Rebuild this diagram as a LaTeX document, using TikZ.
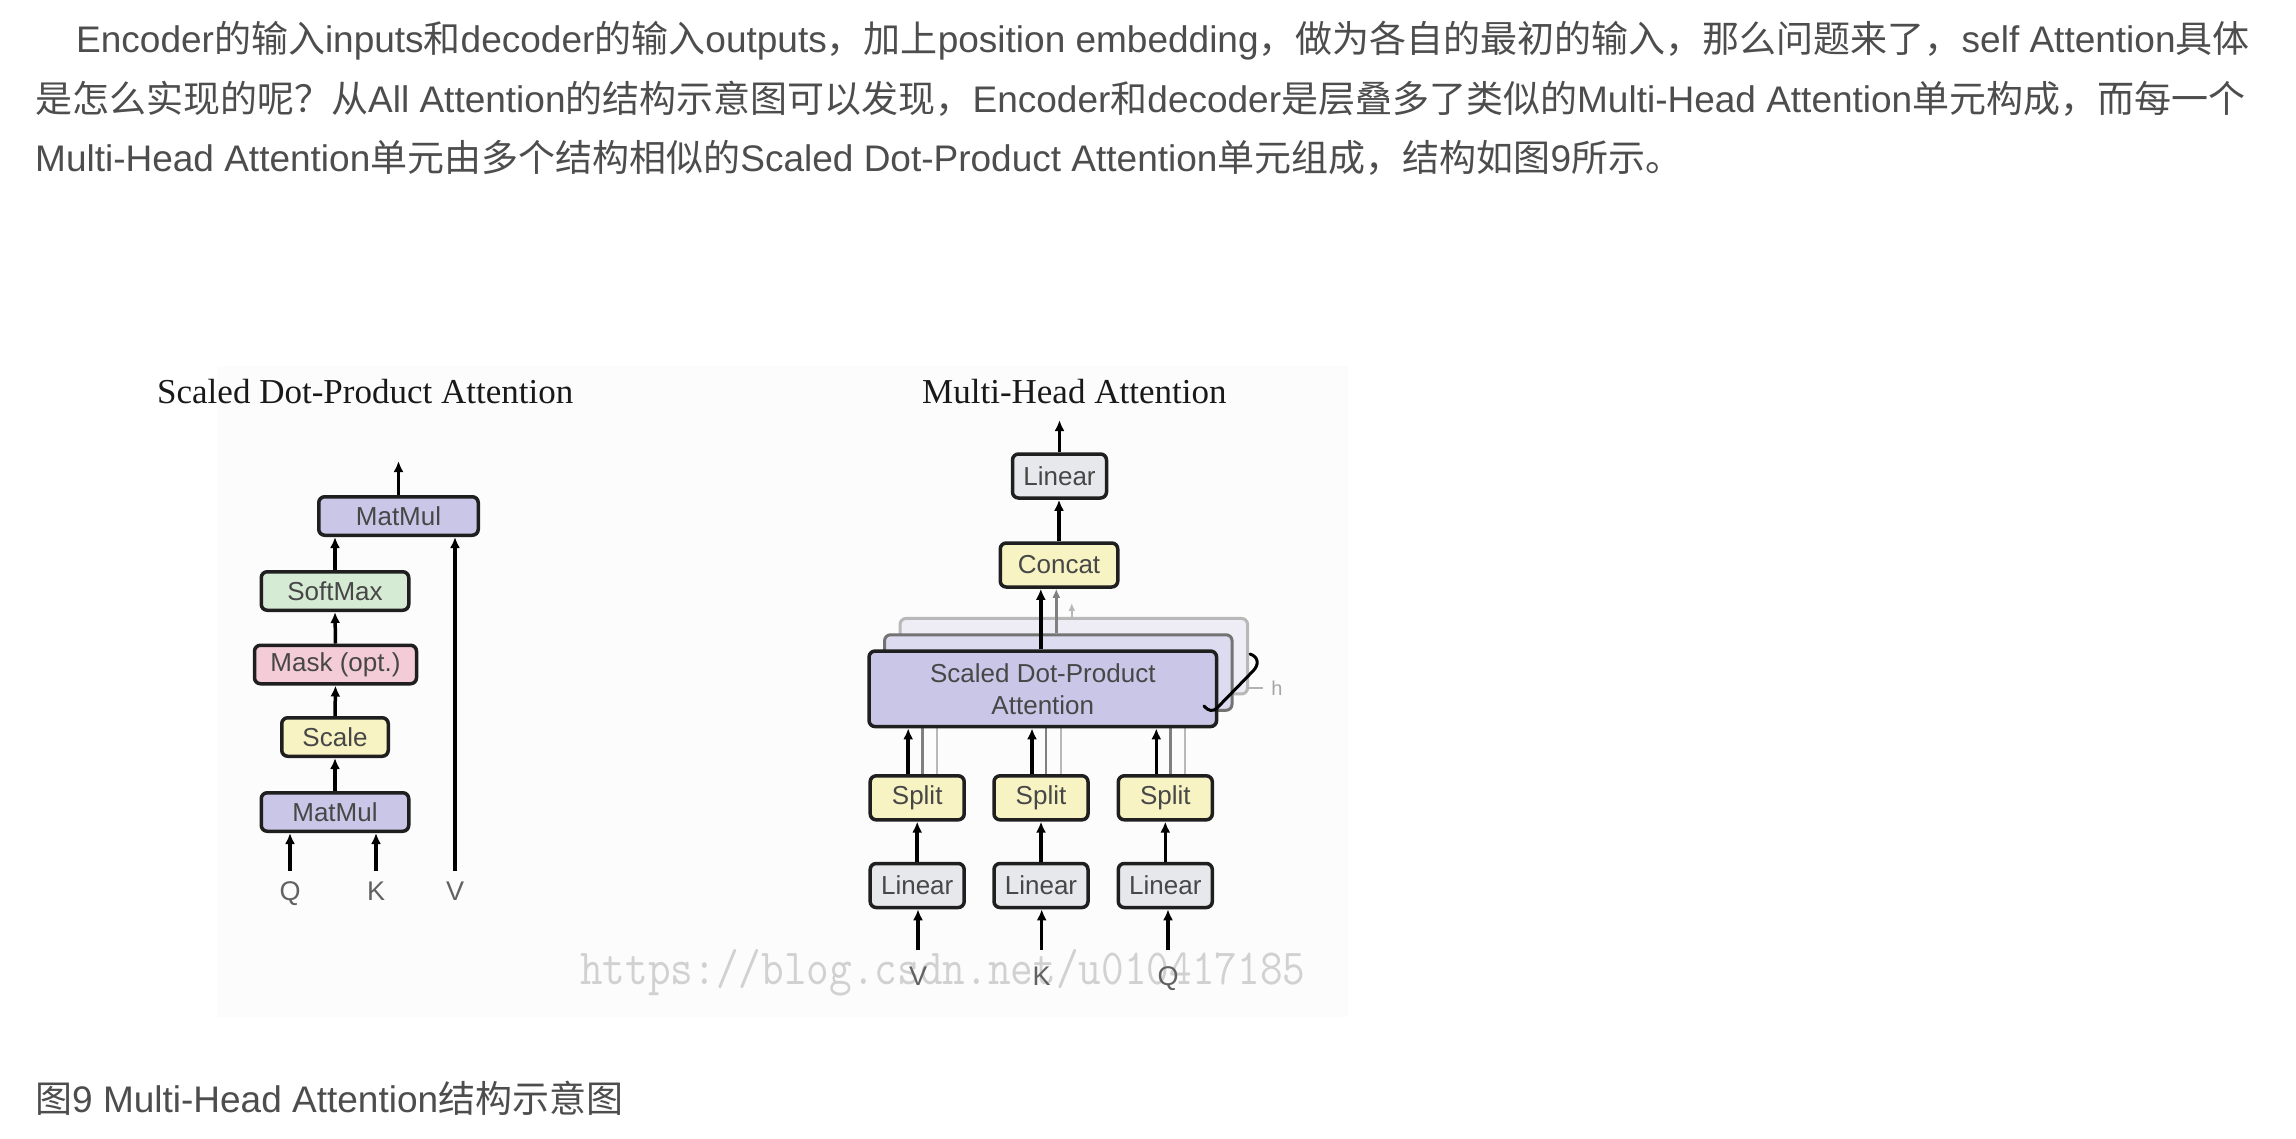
\documentclass[tikz,border=0pt]{standalone}
\usepackage{fontspec}
\usepackage{graphicx}
\setmainfont{Liberation Sans}
\newfontfamily\cjk{Noto Sans CJK SC}
\newfontfamily\paperfont{Liberation Serif}
\usetikzlibrary{arrows.meta}
\definecolor{bodytext}{HTML}{4D4D4D}
\definecolor{imgbg}{HTML}{FCFCFC}
\definecolor{mulfill}{HTML}{C9C6E7}
\definecolor{softfill}{HTML}{D6EBD4}
\definecolor{maskfill}{HTML}{F4CCD8}
\definecolor{yelfill}{HTML}{F7F3C3}
\definecolor{linfill}{HTML}{E7E8EC}
\definecolor{headtwo}{HTML}{DDDBF0}
\definecolor{headthree}{HTML}{EEEDF6}
\newcommand{\zh}[1]{{\cjk #1}}
\begin{document}
\begin{tikzpicture}[
        x=1pt, y=-1pt,
        para/.style={anchor=base west, inner sep=0pt, text=bodytext, font=\fontsize{37}{44}\selectfont},
        title/.style={anchor=base west, inner sep=0pt, text=black!90, font=\paperfont\fontsize{35}{40}\selectfont},
        box/.style={draw=black!88, line width=3.5pt, rounded corners=6pt, inner sep=0pt,
            minimum height=38.5pt, text=black!72, font=\fontsize{26}{32}\selectfont},
        mul/.style={box, fill=mulfill},
        soft/.style={box, fill=softfill},
        mask/.style={box, fill=maskfill},
        yel/.style={box, fill=yelfill, minimum height=44pt},
        lin/.style={box, fill=linfill, minimum height=44pt, minimum width=94pt},
        lbl/.style={inner sep=3pt, text height=20pt, text depth=0pt, text=black!62, font=\fontsize{27}{30}\selectfont},
        arr/.style={line width=3.5pt, -{Latex[length=11pt,width=10pt]}},
        greyarr/.style={arr, line width=2.6pt, draw=black!50, -{Latex[length=9pt,width=8pt]}},
        palearr/.style={arr, line width=2.2pt, draw=black!28, -{Latex[length=8pt,width=7pt]}},
    ]
    \useasboundingbox (0,0) rectangle (2296,1138);
    \fill[white] (0,0) rectangle (2296,1138);

    % text of the page
    \node[para] (line1) at (76,52) {Encoder\zh{的输入}inputs\zh{和}decoder\zh{的输入}outputs\zh{，加上}position embedding\zh{，做为各自的最初的输入，那么问题来了，}self Attention\zh{具体}};
    \node[para] (line2) at (35,112) {\zh{是怎么实现的呢？从}All Attention\zh{的结构示意图可以发现，}Encoder\zh{和}decoder\zh{是层叠多了类似的}Multi-Head Attention\zh{单元构成，而每一个}};
    \node[para] (line3) at (35,171) {Multi-Head Attention\zh{单元由多个结构相似的}Scaled Dot-Product Attention\zh{单元组成，结构如图}9\zh{所示。}};
    \node[para] (caption) at (35,1112) {\zh{图}9 Multi-Head Attention\zh{结构示意图}};

    % the figure
    \fill[imgbg] (217,366) rectangle (1348,1017);
    \node[title] (ltitle) at (157,403) {Scaled Dot-Product Attention};
    \node[title] (rtitle) at (922,403) {Multi-Head Attention};

    % scaled dot-product attention
    \node[mul, minimum width=147.5pt] (mm1) at (335,812) {MatMul};
    \node[yel, minimum width=106.5pt, minimum height=38.5pt] (scale) at (335,737) {Scale};
    \node[mask, minimum width=162pt] (mask) at (335.5,664.5) {Mask (opt.)};
    \node[soft, minimum width=147.5pt] (softmax) at (335,591) {SoftMax};
    \node[mul, minimum width=159.5pt] (mm2) at (398.5,516) {MatMul};
    \coordinate (out1) at (398.5,461);
    \node[lbl] (lq) at (290,890) {Q};
    \node[lbl] (lk) at (376,890) {K};
    \node[lbl] (lv) at (455,890) {V};

    \draw[arr, shorten <=6pt] (lq.north) -- (lq.north |- mm1.south);
    \draw[arr, shorten <=6pt] (lk.north) -- (lk.north |- mm1.south);
    \draw[arr, shorten <=6pt] (lv.north) -- (lv.north |- mm2.south);
    \draw[arr] (mm1.north) -- (scale.south);
    \draw[arr] (scale.north) -- (mask.south);
    \draw[arr] (mask.north) -- (softmax.south);
    \draw[arr] (softmax.north) -- (softmax.north |- mm2.south);
    \draw[arr] (mm2.north) -- (out1);

    % multi-head attention
    \node[lin] (linv) at (917.2,885.5) {Linear};
    \node[lin] (link) at (1041,885.5) {Linear};
    \node[lin] (linq) at (1165.3,885.5) {Linear};
    \node[yel, minimum width=94pt] (splitv) at (917.2,797.8) {Split};
    \node[yel, minimum width=94pt] (splitk) at (1041,797.8) {Split};
    \node[yel, minimum width=94pt] (splitq) at (1165.3,797.8) {Split};
    \node[box, fill=headthree, draw=black!28, line width=3pt, minimum width=347.5pt, minimum height=75.5pt] (head3) at (1073.8,656.2) {};
    \node[box, fill=headtwo, draw=black!55, line width=3pt, minimum width=347.5pt, minimum height=75.5pt] (head2) at (1058.3,672.5) {};

    \draw[palearr] ([xshift=20pt]splitv.north) -- ([xshift=20pt]splitv.north |- head3.south);
    \draw[palearr] ([xshift=20pt]splitk.north) -- ([xshift=20pt]splitk.north |- head3.south);
    \draw[palearr] ([xshift=20pt]splitq.north) -- ([xshift=20pt]splitq.north |- head3.south);
    \draw[greyarr] ([xshift=5pt]splitv.north) -- ([xshift=5pt]splitv.north |- head2.south);
    \draw[greyarr] ([xshift=5pt]splitk.north) -- ([xshift=5pt]splitk.north |- head2.south);
    \draw[greyarr] ([xshift=5pt]splitq.north) -- ([xshift=5pt]splitq.north |- head2.south);

    \node[mul, minimum width=347.5pt, minimum height=75.5pt, align=center] (sdpa) at (1042.8,688.8) {Scaled Dot-Product\\Attention};
    \node[yel, minimum width=117.5pt] (concat) at (1059,565) {Concat};
    \node[lin] (linout) at (1059.5,476) {Linear};
    \coordinate (out2) at (1059.5,420);

    \draw[palearr] ([xshift=-2pt]head3.north) -- ++(0,-14);
    \draw[greyarr] ([xshift=-2pt]head2.north) -- ([xshift=-2pt]head2.north |- concat.south);
    \draw[arr] ([xshift=-2pt]sdpa.north) -- ([xshift=-2pt]sdpa.north |- concat.south);
    \draw[arr] (concat.north) -- (concat.north |- linout.south);
    \draw[arr] (linout.north) -- (out2);

    \draw[arr] ([xshift=-9pt]splitv.north) -- ([xshift=-9pt]splitv.north |- sdpa.south);
    \draw[arr] ([xshift=-9pt]splitk.north) -- ([xshift=-9pt]splitk.north |- sdpa.south);
    \draw[arr] ([xshift=-9pt]splitq.north) -- ([xshift=-9pt]splitq.north |- sdpa.south);
    \draw[arr] (linv.north) -- (splitv.south);
    \draw[arr] (link.north) -- (splitk.south);
    \draw[arr] (linq.north) -- (splitq.south);

    % bracket for the heads
    \draw[line width=3pt, line cap=round] (1250,654) .. controls (1259,657) and (1259,665) .. (1253,671)
        -- (1217,708) .. controls (1213,712) and (1208,711) .. (1204,706);
    \draw[black!30, line width=1.5pt] (1247,688) -- (1263,688);
    \node[text=black!35, inner sep=0pt, font=\fontsize{20}{22}\selectfont] (hlbl) at (1277,688) {h};

    % watermark
    \node[anchor=base west, inner sep=0pt, text=black!18, font=\ttfamily\fontsize{44}{50}\selectfont] (mark) at (580,984)
        {\scalebox{1}[1.15]{https://blog.csdn.net/u010417185}};

    \node[lbl] (rv) at (918,975) {V};
    \node[lbl] (rk) at (1041.7,975) {K};
    \node[lbl] (rq) at (1168,975) {Q};
    \draw[arr, shorten <=12pt] (rv.north) -- (rv.north |- linv.south);
    \draw[arr, shorten <=12pt] (rk.north) -- (rk.north |- link.south);
    \draw[arr, shorten <=12pt] (rq.north) -- (rq.north |- linq.south);
\end{tikzpicture}
\end{document}
